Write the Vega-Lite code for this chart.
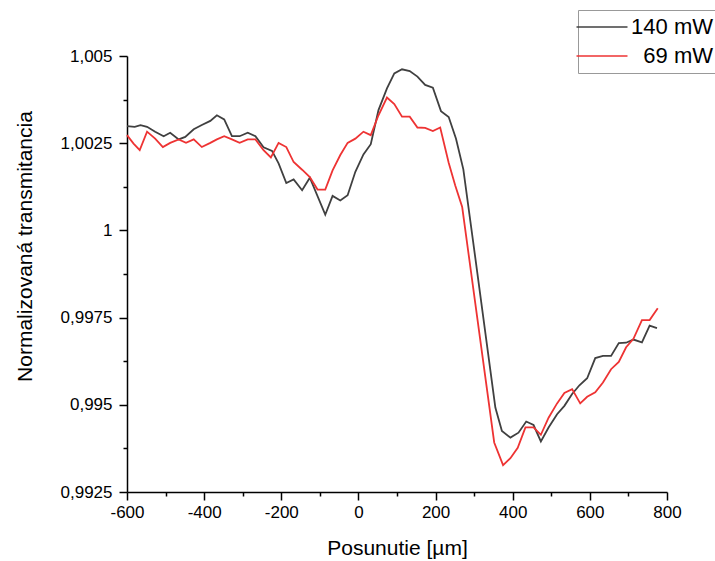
{
  "$schema": "https://vega.github.io/schema/vega-lite/v6.json",
  "width": 540,
  "height": 436,
  "autosize": "none",
  "padding": {"left": 127, "top": 56, "right": 48, "bottom": 69},
  "background": "white",
  "config": {
    "view": {"stroke": null},
    "font": "Liberation Sans"
  },
  "data": {
    "values": [
      {"x": -600, "y": 1.00299, "s": "140 mW"},
      {"x": -580, "y": 1.00297, "s": "140 mW"},
      {"x": -565, "y": 1.00302, "s": "140 mW"},
      {"x": -548, "y": 1.00297, "s": "140 mW"},
      {"x": -527, "y": 1.00283, "s": "140 mW"},
      {"x": -505, "y": 1.0027, "s": "140 mW"},
      {"x": -488, "y": 1.0028, "s": "140 mW"},
      {"x": -466, "y": 1.00261, "s": "140 mW"},
      {"x": -449, "y": 1.00268, "s": "140 mW"},
      {"x": -427, "y": 1.0029, "s": "140 mW"},
      {"x": -406, "y": 1.00302, "s": "140 mW"},
      {"x": -384, "y": 1.00314, "s": "140 mW"},
      {"x": -367, "y": 1.0033, "s": "140 mW"},
      {"x": -348, "y": 1.00318, "s": "140 mW"},
      {"x": -328, "y": 1.0027, "s": "140 mW"},
      {"x": -308, "y": 1.0027, "s": "140 mW"},
      {"x": -287, "y": 1.0028, "s": "140 mW"},
      {"x": -267, "y": 1.0027, "s": "140 mW"},
      {"x": -246, "y": 1.00238, "s": "140 mW"},
      {"x": -224, "y": 1.00228, "s": "140 mW"},
      {"x": -207, "y": 1.00192, "s": "140 mW"},
      {"x": -187, "y": 1.00136, "s": "140 mW"},
      {"x": -168, "y": 1.00146, "s": "140 mW"},
      {"x": -146, "y": 1.00115, "s": "140 mW"},
      {"x": -126, "y": 1.00151, "s": "140 mW"},
      {"x": -86, "y": 1.00045, "s": "140 mW"},
      {"x": -67, "y": 1.00099, "s": "140 mW"},
      {"x": -47, "y": 1.00086, "s": "140 mW"},
      {"x": -28, "y": 1.00101, "s": "140 mW"},
      {"x": -8, "y": 1.00168, "s": "140 mW"},
      {"x": 13, "y": 1.00218, "s": "140 mW"},
      {"x": 32, "y": 1.00247, "s": "140 mW"},
      {"x": 52, "y": 1.00345, "s": "140 mW"},
      {"x": 74, "y": 1.00407, "s": "140 mW"},
      {"x": 93, "y": 1.0045, "s": "140 mW"},
      {"x": 113, "y": 1.00462, "s": "140 mW"},
      {"x": 133, "y": 1.00457, "s": "140 mW"},
      {"x": 153, "y": 1.00441, "s": "140 mW"},
      {"x": 173, "y": 1.00417, "s": "140 mW"},
      {"x": 193, "y": 1.00409, "s": "140 mW"},
      {"x": 214, "y": 1.00342, "s": "140 mW"},
      {"x": 234, "y": 1.00325, "s": "140 mW"},
      {"x": 253, "y": 1.00263, "s": "140 mW"},
      {"x": 272, "y": 1.00175, "s": "140 mW"},
      {"x": 297, "y": 0.99971, "s": "140 mW"},
      {"x": 355, "y": 0.99492, "s": "140 mW"},
      {"x": 372, "y": 0.99425, "s": "140 mW"},
      {"x": 394, "y": 0.99406, "s": "140 mW"},
      {"x": 415, "y": 0.9942, "s": "140 mW"},
      {"x": 435, "y": 0.99452, "s": "140 mW"},
      {"x": 454, "y": 0.99442, "s": "140 mW"},
      {"x": 473, "y": 0.99395, "s": "140 mW"},
      {"x": 493, "y": 0.99435, "s": "140 mW"},
      {"x": 515, "y": 0.99473, "s": "140 mW"},
      {"x": 534, "y": 0.99497, "s": "140 mW"},
      {"x": 554, "y": 0.99531, "s": "140 mW"},
      {"x": 573, "y": 0.99556, "s": "140 mW"},
      {"x": 593, "y": 0.99576, "s": "140 mW"},
      {"x": 614, "y": 0.99634, "s": "140 mW"},
      {"x": 634, "y": 0.9964, "s": "140 mW"},
      {"x": 655, "y": 0.9964, "s": "140 mW"},
      {"x": 675, "y": 0.99677, "s": "140 mW"},
      {"x": 694, "y": 0.99678, "s": "140 mW"},
      {"x": 713, "y": 0.99687, "s": "140 mW"},
      {"x": 735, "y": 0.99679, "s": "140 mW"},
      {"x": 755, "y": 0.99727, "s": "140 mW"},
      {"x": 774, "y": 0.9972, "s": "140 mW"},
      {"x": -600, "y": 1.00273, "s": "69 mW"},
      {"x": -583, "y": 1.00249, "s": "69 mW"},
      {"x": -567, "y": 1.0023, "s": "69 mW"},
      {"x": -548, "y": 1.00283, "s": "69 mW"},
      {"x": -527, "y": 1.00263, "s": "69 mW"},
      {"x": -507, "y": 1.00239, "s": "69 mW"},
      {"x": -488, "y": 1.00251, "s": "69 mW"},
      {"x": -466, "y": 1.00261, "s": "69 mW"},
      {"x": -447, "y": 1.00251, "s": "69 mW"},
      {"x": -427, "y": 1.00261, "s": "69 mW"},
      {"x": -406, "y": 1.00239, "s": "69 mW"},
      {"x": -384, "y": 1.00251, "s": "69 mW"},
      {"x": -367, "y": 1.00261, "s": "69 mW"},
      {"x": -348, "y": 1.0027, "s": "69 mW"},
      {"x": -328, "y": 1.00261, "s": "69 mW"},
      {"x": -308, "y": 1.00251, "s": "69 mW"},
      {"x": -287, "y": 1.00261, "s": "69 mW"},
      {"x": -267, "y": 1.00261, "s": "69 mW"},
      {"x": -246, "y": 1.0023, "s": "69 mW"},
      {"x": -227, "y": 1.00209, "s": "69 mW"},
      {"x": -207, "y": 1.00251, "s": "69 mW"},
      {"x": -187, "y": 1.00239, "s": "69 mW"},
      {"x": -168, "y": 1.00196, "s": "69 mW"},
      {"x": -146, "y": 1.00174, "s": "69 mW"},
      {"x": -126, "y": 1.00153, "s": "69 mW"},
      {"x": -106, "y": 1.00117, "s": "69 mW"},
      {"x": -86, "y": 1.00117, "s": "69 mW"},
      {"x": -67, "y": 1.00172, "s": "69 mW"},
      {"x": -47, "y": 1.00216, "s": "69 mW"},
      {"x": -28, "y": 1.00251, "s": "69 mW"},
      {"x": -8, "y": 1.00263, "s": "69 mW"},
      {"x": 13, "y": 1.00283, "s": "69 mW"},
      {"x": 32, "y": 1.00273, "s": "69 mW"},
      {"x": 52, "y": 1.0033, "s": "69 mW"},
      {"x": 74, "y": 1.00381, "s": "69 mW"},
      {"x": 93, "y": 1.00362, "s": "69 mW"},
      {"x": 113, "y": 1.00326, "s": "69 mW"},
      {"x": 133, "y": 1.00326, "s": "69 mW"},
      {"x": 153, "y": 1.00295, "s": "69 mW"},
      {"x": 173, "y": 1.00294, "s": "69 mW"},
      {"x": 193, "y": 1.00285, "s": "69 mW"},
      {"x": 212, "y": 1.00295, "s": "69 mW"},
      {"x": 234, "y": 1.00194, "s": "69 mW"},
      {"x": 251, "y": 1.00129, "s": "69 mW"},
      {"x": 269, "y": 1.00067, "s": "69 mW"},
      {"x": 352, "y": 0.99392, "s": "69 mW"},
      {"x": 375, "y": 0.99327, "s": "69 mW"},
      {"x": 394, "y": 0.99347, "s": "69 mW"},
      {"x": 413, "y": 0.99377, "s": "69 mW"},
      {"x": 433, "y": 0.99435, "s": "69 mW"},
      {"x": 454, "y": 0.99435, "s": "69 mW"},
      {"x": 473, "y": 0.99414, "s": "69 mW"},
      {"x": 493, "y": 0.99463, "s": "69 mW"},
      {"x": 515, "y": 0.99504, "s": "69 mW"},
      {"x": 534, "y": 0.99534, "s": "69 mW"},
      {"x": 554, "y": 0.99545, "s": "69 mW"},
      {"x": 575, "y": 0.99504, "s": "69 mW"},
      {"x": 593, "y": 0.99523, "s": "69 mW"},
      {"x": 614, "y": 0.99536, "s": "69 mW"},
      {"x": 634, "y": 0.99564, "s": "69 mW"},
      {"x": 655, "y": 0.99602, "s": "69 mW"},
      {"x": 675, "y": 0.99623, "s": "69 mW"},
      {"x": 694, "y": 0.99665, "s": "69 mW"},
      {"x": 713, "y": 0.99689, "s": "69 mW"},
      {"x": 735, "y": 0.99743, "s": "69 mW"},
      {"x": 755, "y": 0.99743, "s": "69 mW"},
      {"x": 776, "y": 0.99777, "s": "69 mW"}
    ]
  },
  "mark": {"type": "line", "strokeWidth": 1.8, "clip": false},
  "encoding": {
    "x": {
      "field": "x",
      "type": "quantitative",
      "scale": {"domain": [-600, 800], "nice": false, "zero": false},
      "axis": {
        "title": "Posunutie [µm]",
        "values": [-600, -500, -400, -300, -200, -100, 0, 100, 200, 300, 400, 500, 600, 700, 800],
        "labelExpr": "datum.value % 200 == 0 ? toString(datum.value) : ''",
        "grid": false,
        "domainColor": "#000000",
        "domainWidth": 1.5,
        "tickColor": "#000000",
        "tickWidth": 1.5,
        "tickSize": {"condition": {"test": "datum.value % 200 == 0", "value": 8}, "value": 4},
        "labelFontSize": 17,
        "labelColor": "#000000",
        "labelPadding": 4,
        "labelFlush": false,
        "titleFontSize": 21,
        "titleFontWeight": "normal",
        "titleColor": "#000000",
        "titleBaseline": "middle",
        "titleY": 56
      }
    },
    "y": {
      "field": "y",
      "type": "quantitative",
      "scale": {"domain": [0.9925, 1.005], "nice": false, "zero": false},
      "axis": {
        "title": "Normalizovaná transmitancia",
        "values": [0.9925, 0.99375, 0.995, 0.99625, 0.9975, 0.99875, 1, 1.00125, 1.0025, 1.00375, 1.005],
        "labelExpr": "abs(datum.value*400 - round(datum.value*400)) < 0.01 ? replace(toString(datum.value), '.', ',') : ''",
        "grid": false,
        "domainColor": "#000000",
        "domainWidth": 1.5,
        "tickColor": "#000000",
        "tickWidth": 1.5,
        "tickSize": {"condition": {"test": "abs(datum.value*400 - round(datum.value*400)) < 0.01", "value": 8}, "value": 4},
        "labelFontSize": 17,
        "labelColor": "#000000",
        "labelPadding": 7,
        "labelFlush": false,
        "titleFontSize": 21,
        "titleFontWeight": "normal",
        "titleColor": "#000000",
        "titleBaseline": "middle",
        "titleX": -102,
        "titleY": 190
      }
    },
    "color": {
      "field": "s",
      "type": "nominal",
      "scale": {"domain": ["140 mW", "69 mW"], "range": ["#404040", "#ee3333"]},
      "legend": {
        "title": null,
        "orient": "none",
        "legendX": 451,
        "legendY": -46,
        "symbolType": "M-5,0H5",
        "symbolSize": 104,
        "symbolStrokeWidth": 1.5,
        "symbolOffset": 7,
        "labelFontSize": 22,
        "labelColor": "#000000",
        "labelAlign": "right",
        "labelOffset": 100,
        "padding": 6,
        "rowPadding": 7,
        "strokeColor": "#999999",
        "fillColor": "#ffffff"
      }
    }
  }
}
